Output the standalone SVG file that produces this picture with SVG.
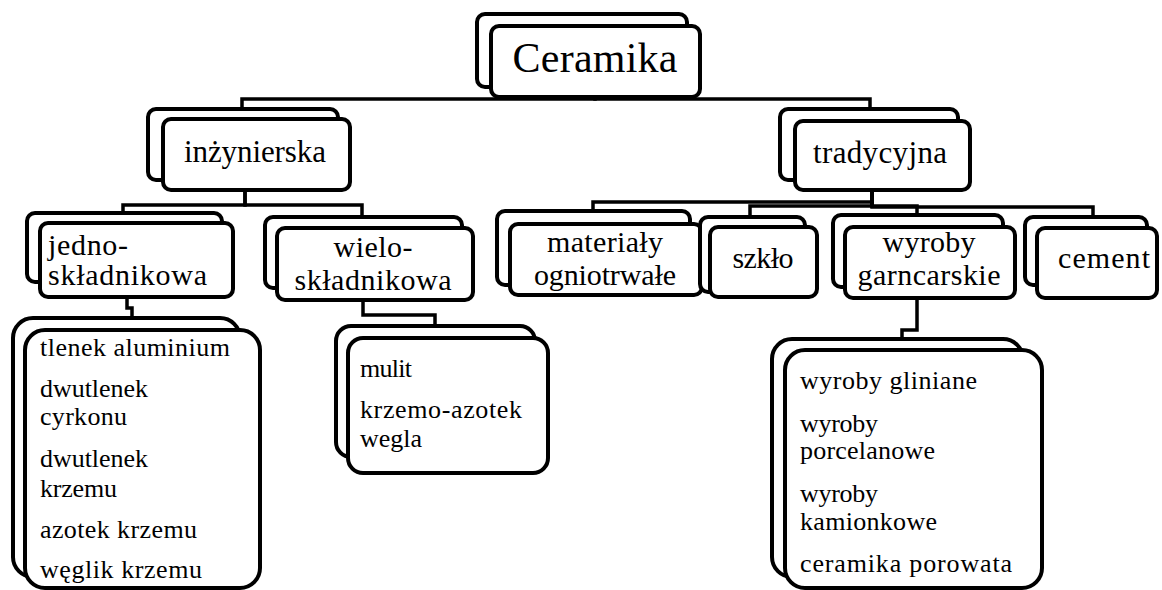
<svg xmlns="http://www.w3.org/2000/svg" width="1162" height="590" viewBox="0 0 1162 590">
<style>
.b{fill:#fff;stroke:#000;stroke-width:4}
.c{fill:none;stroke:#000;stroke-width:3.5}
text{font-family:"Liberation Serif","Times New Roman",Times,"Noto Serif","DejaVu Serif",Tinos,serif;fill:#000}
.t1{font-size:42px}
.t2{font-size:31px}
.t3{font-size:30px}
.t4{font-size:26px}
.m{text-anchor:middle}
</style>
<rect width="1162" height="590" fill="#fff"/>
<g id="connectors">
<path class="c" d="M595 97V99H242V110"/>
<path class="c" d="M595 97V99H870V110"/>
<path class="c" d="M245 190V205H123V213"/>
<path class="c" d="M245 190V205H362V217"/>
<path class="c" d="M872 190V202H593V211"/>
<path class="c" d="M872 190V206H750V217"/>
<path class="c" d="M872 190V206H917V215"/>
<path class="c" d="M872 190V207H1093V217"/>
<path class="c" d="M127 297V308H132V318"/>
<path class="c" d="M363 300V315H435V326"/>
<path class="c" d="M917 298V330H902V339"/>
</g>
<g id="ceramika">
<rect class="b" x="477" y="14" width="210" height="73" rx="8"/>
<rect class="b" x="491" y="26" width="209" height="71" rx="8"/>
<text class="t1 m" x="595" y="72" textLength="165">Ceramika</text>
</g>
<g id="inzynierska">
<rect class="b" x="148" y="109" width="190" height="71" rx="8"/>
<rect class="b" x="163" y="119" width="187" height="71" rx="8"/>
<text class="t2 m" x="255" y="162" textLength="142">inżynierska</text>
</g>
<g id="tradycyjna">
<rect class="b" x="780" y="109" width="178" height="71" rx="8"/>
<rect class="b" x="795" y="121" width="175" height="69" rx="8"/>
<text class="t2 m" x="880" y="163" textLength="134">tradycyjna</text>
</g>
<g id="jednoskladnikowa">
<rect class="b" x="27" y="213" width="195" height="69" rx="8"/>
<rect class="b" x="40" y="223" width="193" height="74" rx="8"/>
<text class="t3" x="48" y="255" textLength="80">jedno-</text>
<text class="t3" x="48" y="285" textLength="159">składnikowa</text>
</g>
<g id="wieloskladnikowa">
<rect class="b" x="265" y="217" width="197" height="71" rx="8"/>
<rect class="b" x="277" y="228" width="196" height="72" rx="8"/>
<text class="t3 m" x="373" y="257" textLength="79">wielo-</text>
<text class="t3 m" x="373" y="290" textLength="157">składnikowa</text>
</g>
<g id="materialy">
<rect class="b" x="497" y="211" width="193" height="74" rx="8"/>
<rect class="b" x="510" y="224" width="192" height="71" rx="8"/>
<text class="t3 m" x="605" y="252" textLength="116">materiały</text>
<text class="t3 m" x="605" y="285" textLength="142">ogniotrwałe</text>
</g>
<g id="szklo">
<rect class="b" x="700" y="217" width="105" height="75" rx="8"/>
<rect class="b" x="710" y="227" width="107" height="70" rx="8"/>
<text class="t3 m" x="763" y="268" textLength="61">szkło</text>
</g>
<g id="wyroby">
<rect class="b" x="833" y="215" width="170" height="72" rx="8"/>
<rect class="b" x="845" y="227" width="170" height="71" rx="8"/>
<text class="t3 m" x="929" y="252" textLength="93">wyroby</text>
<text class="t3 m" x="929" y="285" textLength="143">garncarskie</text>
</g>
<g id="cement">
<rect class="b" x="1025" y="217" width="122" height="68" rx="8"/>
<rect class="b" x="1037" y="228" width="120" height="70" rx="8"/>
<text class="t3" x="1058" y="268" textLength="92">cement</text>
</g>
<g id="lista-jedno">
<rect class="b" x="13" y="318" width="227" height="259" rx="20"/>
<rect class="b" x="25" y="330" width="235" height="258" rx="20"/>
<text class="t4" x="40" y="356" textLength="190">tlenek aluminium</text>
<text class="t4" x="40" y="397" textLength="108">dwutlenek</text>
<text class="t4" x="40" y="425" textLength="87">cyrkonu</text>
<text class="t4" x="40" y="467" textLength="108">dwutlenek</text>
<text class="t4" x="40" y="497" textLength="77">krzemu</text>
<text class="t4" x="40" y="538" textLength="157">azotek krzemu</text>
<text class="t4" x="40" y="578" textLength="162">węglik krzemu</text>
</g>
<g id="lista-wielo">
<rect class="b" x="336" y="326" width="199" height="131" rx="15"/>
<rect class="b" x="348" y="338" width="200" height="135" rx="15"/>
<text class="t4" x="360" y="377" textLength="52">mulit</text>
<text class="t4" x="360" y="418" textLength="162">krzemo-azotek</text>
<text class="t4" x="360" y="447" textLength="62">wegla</text>
</g>
<g id="lista-wyroby">
<rect class="b" x="772" y="339" width="251" height="238" rx="20"/>
<rect class="b" x="785" y="350" width="257" height="238" rx="20"/>
<text class="t4" x="800" y="389" textLength="177">wyroby gliniane</text>
<text class="t4" x="800" y="432" textLength="78">wyroby</text>
<text class="t4" x="800" y="459" textLength="135">porcelanowe</text>
<text class="t4" x="800" y="502" textLength="78">wyroby</text>
<text class="t4" x="800" y="530" textLength="137">kamionkowe</text>
<text class="t4" x="800" y="572" textLength="212">ceramika porowata</text>
</g>
</svg>
